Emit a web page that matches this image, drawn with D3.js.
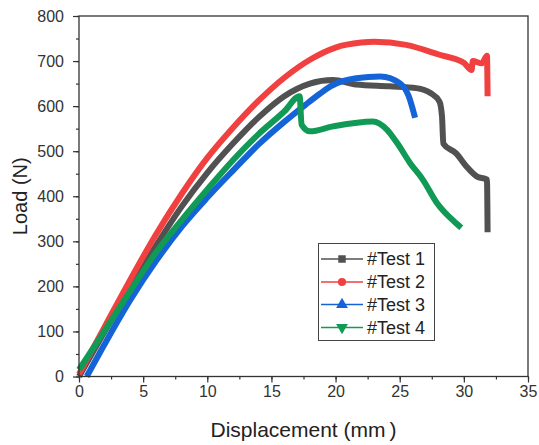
<!DOCTYPE html>
<html><head><meta charset="utf-8">
<script src="https://cdn.jsdelivr.net/npm/d3@7/dist/d3.min.js"></script>
<style>body{margin:0;background:#fff}svg{display:block}</style></head>
<body><svg id="c" width="539" height="445"></svg>
<script>
// ---- data ----
const seriesNames = ["#Test 1", "#Test 2", "#Test 3", "#Test 4"];
const xTicks = [0, 5, 10, 15, 20, 25, 30, 35];
const yTicks = [0, 100, 200, 300, 400, 500, 600, 700, 800];

const test1X = [0, 2, 4, 6, 8, 10, 12, 14, 16, 18, 19.8, 21.6, 24.2, 26.3, 27.4, 28.1, 28.3, 28.4, 29.4, 30.2, 31.0, 31.8, 31.85];
const test1Y = [0, 100, 195, 290, 377, 452, 517, 575, 622, 650, 658, 648, 644, 640, 629, 610, 576, 517, 495, 466, 444, 437, 320];

const test2X = [0, 2, 4, 6, 8, 10, 12, 14, 16, 18, 20, 22, 23, 25.5, 28.1, 30, 30.6, 30.7, 31.4, 31.8, 31.85];
const test2Y = [5, 110, 215, 315, 405, 485, 552, 612, 663, 703, 730, 741, 743, 736, 714, 696, 680, 700, 695, 712, 622];

const test3X = [0.6, 2, 4, 6, 8, 10, 12, 14, 16, 17.7, 18.8, 19.6, 21.6, 23.5, 25, 25.7, 26.2];
const test3Y = [0, 72, 170, 256, 332, 397, 457, 515, 565, 604, 628, 644, 662, 666, 651, 622, 574];

const test4X = [0, 2, 4, 6, 8, 10, 12, 14, 16, 17.2, 17.35, 18, 19.8, 22.9, 24, 24.8, 25.8, 26.8, 27.9, 29.4, 29.8];
const test4Y = [15, 102, 190, 275, 347, 415, 480, 538, 588, 622, 559, 544, 555, 566, 548, 518, 474, 437, 385, 340, 330];

const colors = ["#515151", "#F14040", "#1464D8", "#119A55"];
const markers = [d3.symbolSquare, d3.symbolCircle, d3.symbolTriangle, "tri-down"];

// ---- build ----
const allX = [test1X, test2X, test3X, test4X];
const allY = [test1Y, test2Y, test3Y, test4Y];
const series = seriesNames.map((n, i) => ({name: n, color: colors[i], pts: allX[i].map((v, j) => [v, allY[i][j]])}));

const svg = d3.select("#c");
svg.append("rect").attr("width", 539).attr("height", 445).attr("fill", "#fff");

const L = 79, R = 528, T = 16, B = 376.5;
const x = d3.scaleLinear().domain([0, 35]).range([L, R]);
const y = d3.scaleLinear().domain([0, 800]).range([B, T]);

const font = "Arial, 'Liberation Sans', sans-serif";
const axisColor = "#333";

// lines
const line = d3.line().x(d => x(d[0])).y(d => y(d[1])).curve(d3.curveMonotoneX);
const g = svg.append("g");
series.forEach(s => {
  g.append("path").datum(s.pts).attr("d", line)
    .attr("fill", "none").attr("stroke", s.color).attr("stroke-width", 6)
    .attr("stroke-linejoin", "round").attr("stroke-linecap", "butt");
});

// axes
const xMinor = d3.range(0, 35.01, 2.5);
const yMinor = d3.range(0, 800.01, 50);

const xAx = svg.append("g").attr("transform", `translate(0,${B})`)
  .call(d3.axisBottom(x).tickValues(xTicks).tickSize(6).tickPadding(3).tickFormat(d3.format("d")));
const xAxm = svg.append("g").attr("transform", `translate(0,${B})`)
  .call(d3.axisBottom(x).tickValues(xMinor).tickSize(3).tickFormat(""));
const yAx = svg.append("g").attr("transform", `translate(${L},0)`)
  .call(d3.axisLeft(y).tickValues(yTicks).tickSize(6).tickPadding(9).tickFormat(d3.format("d")));
const yAxm = svg.append("g").attr("transform", `translate(${L},0)`)
  .call(d3.axisLeft(y).tickValues(yMinor).tickSize(3).tickFormat(""));

[xAx, xAxm, yAx, yAxm].forEach(a => {
  a.select(".domain").remove();
  a.selectAll("line").attr("stroke", axisColor).attr("stroke-width", 1.2);
  a.selectAll("text").attr("font-family", font).attr("font-size", 16).attr("fill", axisColor);
});

// frame
svg.append("rect").attr("x", L).attr("y", T).attr("width", R - L).attr("height", B - T)
  .attr("fill", "none").attr("stroke", axisColor).attr("stroke-width", 1.3);

// titles
const xt = svg.append("text").attr("x", (L + R) / 2).attr("y", 437).attr("text-anchor", "middle")
  .attr("font-family", font).attr("font-size", 21).attr("fill", "#222");
xt.append("tspan").text("Displacement (mm");
xt.append("tspan").attr("dx", 4).text(")");

svg.append("text").attr("transform", `translate(27,${(T + B) / 2}) rotate(-90)`)
  .attr("text-anchor", "middle").attr("font-family", font).attr("font-size", 20).attr("fill", "#222")
  .text("Load (N)");

// legend
const lg = svg.append("g");
lg.append("rect").attr("x", 318.5).attr("y", 243.5).attr("width", 116).attr("height", 97)
  .attr("fill", "#fff").attr("stroke", "#444").attr("stroke-width", 1);
const rowY = [259, 282, 304.5, 327.5];
series.forEach((s, i) => {
  const yy = rowY[i];
  lg.append("line").attr("x1", 321).attr("x2", 363).attr("y1", yy).attr("y2", yy)
    .attr("stroke", s.color).attr("stroke-width", 1.5);
  if (markers[i] === "tri-down") {
    const sym = d3.symbol().type(d3.symbolTriangle).size(60);
    lg.append("path").attr("d", sym()).attr("transform", `translate(342,${yy}) rotate(180)`).attr("fill", s.color);
  } else {
    const size = i === 0 ? 56 : (i === 1 ? 52 : 60);
    const sym = d3.symbol().type(markers[i]).size(size);
    lg.append("path").attr("d", sym()).attr("transform", `translate(342,${yy})`).attr("fill", s.color);
  }
  lg.append("text").attr("x", 367).attr("y", yy).attr("dy", "0.36em")
    .attr("font-family", font).attr("font-size", 18).attr("fill", "#222").text(s.name);
});
</script></body></html>
